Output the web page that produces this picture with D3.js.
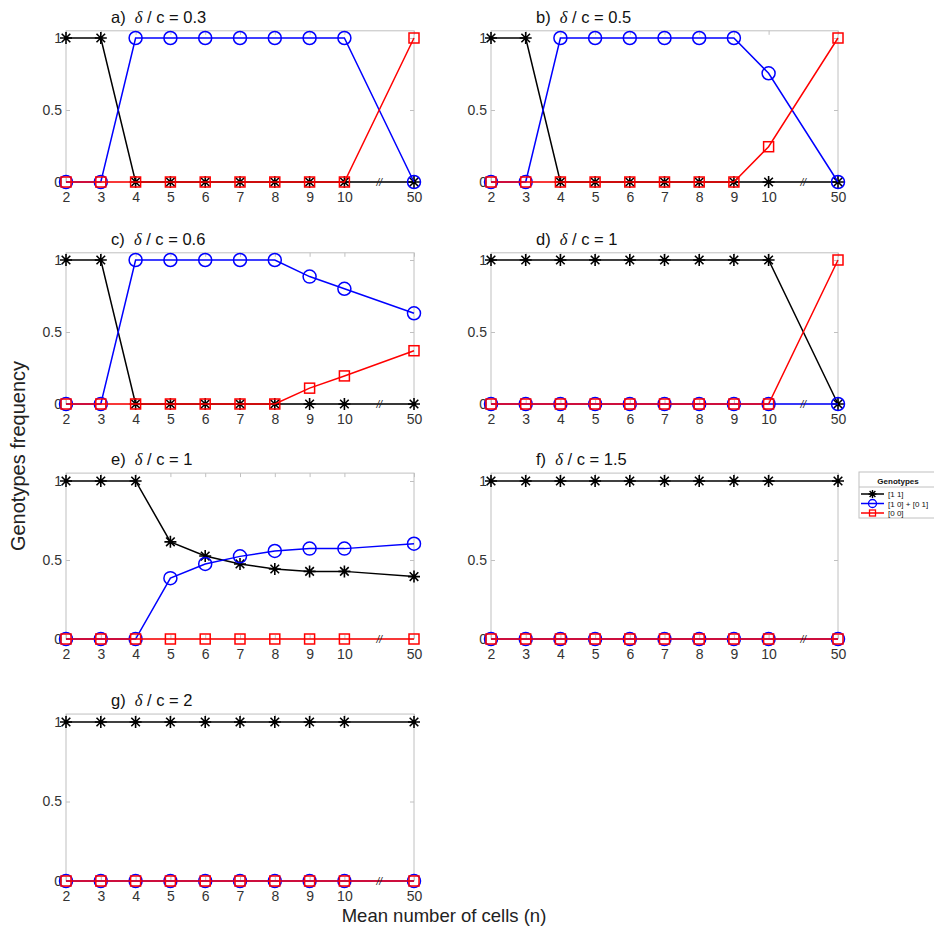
<!DOCTYPE html>
<html><head><meta charset="utf-8">
<script src="https://cdn.jsdelivr.net/npm/d3@7/dist/d3.min.js"></script>
<style>body{margin:0;background:#fff}</style>
</head><body>
<svg id="c" width="934" height="929"></svg>
<script>
const xLabels = ["2","3","4","5","6","7","8","9","10","50"];
const xPos = [0,1,2,3,4,5,6,7,8,10];
const yTicks = [0, 0.5, 1];
const titles = ["a)", "b)", "c)", "d)", "e)", "f)", "g)"];
const ratios = ["0.3", "0.5", "0.6", "1", "1", "1.5", "2"];
const seriesNames = ["[1 1]", "[1 0] + [0 1]", "[0 0]"];

const black_a = [1,1,0,0,0,0,0,0,0,0];
const blue_a  = [0,0,1,1,1,1,1,1,1,0];
const red_a   = [0,0,0,0,0,0,0,0,0,1];
const black_b = [1,1,0,0,0,0,0,0,0,0];
const blue_b  = [0,0,1,1,1,1,1,1,0.755,0];
const red_b   = [0,0,0,0,0,0,0,0,0.245,1];
const black_c = [1,1,0,0,0,0,0,0,0,0];
const blue_c  = [0,0,1,1,1,1,1,0.885,0.80,0.63];
const red_c   = [0,0,0,0,0,0,0,0.11,0.195,0.37];
const black_d = [1,1,1,1,1,1,1,1,1,0];
const blue_d  = [0,0,0,0,0,0,0,0,0,0];
const red_d   = [0,0,0,0,0,0,0,0,0,1];
const black_e = [1,1,1,0.615,0.525,0.475,0.443,0.428,0.428,0.395];
const blue_e  = [0,0,0,0.385,0.475,0.523,0.557,0.572,0.572,0.603];
const red_e   = [0,0,0,0,0,0,0,0,0,0];
const black_f = [1,1,1,1,1,1,1,1,1,1];
const blue_f  = [0,0,0,0,0,0,0,0,0,0];
const red_f   = [0,0,0,0,0,0,0,0,0,0];
const black_g = [1,1,1,1,1,1,1,1,1,1];
const blue_g  = [0,0,0,0,0,0,0,0,0,0];
const red_g   = [0,0,0,0,0,0,0,0,0,0];

const panelData = [
  [black_a, blue_a, red_a], [black_b, blue_b, red_b],
  [black_c, blue_c, red_c], [black_d, blue_d, red_d],
  [black_e, blue_e, red_e], [black_f, blue_f, red_f],
  [black_g, blue_g, red_g]
];

const colors = ["#000000", "#0000ff", "#ff0000"];
const cols = [[66, 414], [491, 838]];
const rows = [[38, 182], [260, 404], [481, 639], [722, 881]];

const svg = d3.select("#c");
const font = "'Liberation Sans', Arial, sans-serif";

function drawMarker(g, type, x, y, color) {
  if (type === 0) {
    const s = 6, d = 4.3;
    g.append("path")
      .attr("d", `M${x-s},${y}L${x+s},${y}M${x},${y-s}L${x},${y+s}M${x-d},${y-d}L${x+d},${y+d}M${x-d},${y+d}L${x+d},${y-d}`)
      .attr("stroke", color).attr("stroke-width", 1.6).attr("fill", "none");
  } else if (type === 1) {
    g.append("circle").attr("cx", x).attr("cy", y).attr("r", 6.5)
      .attr("stroke", color).attr("stroke-width", 1.5).attr("fill", "none");
  } else {
    g.append("rect").attr("x", x-5).attr("y", y-5).attr("width", 10).attr("height", 10)
      .attr("stroke", color).attr("stroke-width", 1.5).attr("fill", "none");
  }
}

panelData.forEach((series, i) => {
  const col = i % 2, row = Math.floor(i / 2);
  const x = d3.scaleLinear().domain([0, 10]).range(cols[col]);
  const y = d3.scaleLinear().domain([0, 1]).range([rows[row][1], rows[row][0]]);
  const g = svg.append("g");
  const x0 = x(0), x1 = x(10), yT = y(1.05), yB = y(0);

  // box
  g.append("rect").attr("x", x0).attr("y", yT).attr("width", x1 - x0).attr("height", yB - yT)
    .attr("fill", "none").attr("stroke", "#c0c0c0").attr("stroke-width", 1);

  // y axis ticks & labels
  const yAx = d3.axisLeft(y).tickValues(yTicks).tickSize(-4).tickPadding(4)
    .tickFormat(d => d === 0.5 ? "0.5" : String(d));
  const ya = g.append("g").attr("transform", `translate(${x0},0)`).call(yAx);
  ya.select(".domain").remove();
  ya.selectAll("line").attr("stroke", "#c0c0c0");
  ya.selectAll("text").attr("font-family", font).attr("font-size", 14).attr("fill", "#333");
  const yAxR = d3.axisRight(y).tickValues(yTicks).tickSize(-4).tickFormat("");
  const yr = g.append("g").attr("transform", `translate(${x1},0)`).call(yAxR);
  yr.select(".domain").remove();
  yr.selectAll("line").attr("stroke", "#c0c0c0");

  // x axis
  const xAx = d3.axisBottom(x).tickValues(xPos).tickSize(-4).tickPadding(10)
    .tickFormat((d, k) => xLabels[k]);
  const xa = g.append("g").attr("transform", `translate(0,${yB})`).call(xAx);
  xa.select(".domain").remove();
  xa.selectAll("line").attr("stroke", "#c0c0c0");
  xa.selectAll("text").attr("font-family", font).attr("font-size", 14).attr("fill", "#333");
  const xAxT = d3.axisTop(x).tickValues(xPos).tickSize(-4).tickFormat("");
  const xt = g.append("g").attr("transform", `translate(0,${yT})`).call(xAxT);
  xt.select(".domain").remove();
  xt.selectAll("line").attr("stroke", "#c0c0c0");

  // title
  const t = g.append("text").attr("x", x0 + 45).attr("y", yT - 8)
    .attr("font-family", font).attr("font-size", 16.5).attr("fill", "#111");
  t.append("tspan").text(titles[i] + "\u00a0\u00a0");
  t.append("tspan").attr("font-family", "'Liberation Serif', 'Times New Roman', serif")
    .attr("font-style", "italic").text("\u03b4");
  t.append("tspan").text(" / c = " + ratios[i]);

  // lines and markers
  const line = d3.line().x((d, k) => x(xPos[k])).y(d => y(d));
  series.forEach((vals, s) => {
    g.append("path").datum(vals).attr("d", line)
      .attr("fill", "none").attr("stroke", colors[s]).attr("stroke-width", 1.5);
    vals.forEach((v, k) => drawMarker(g, s, x(xPos[k]), y(v), colors[s]));
  });

  // break mark
  g.append("text").attr("x", x(9)).attr("y", yB + 4).attr("text-anchor", "middle")
    .attr("font-family", font).attr("font-size", 10).attr("font-style", "italic")
    .attr("fill", "#222").text("//");
});

// axis titles
svg.append("text").attr("transform", "translate(25,456) rotate(-90)")
  .attr("text-anchor", "middle").attr("font-family", font).attr("font-size", 20)
  .attr("fill", "#222").text("Genotypes frequency");
svg.append("text").attr("x", 444).attr("y", 922).attr("text-anchor", "middle")
  .attr("font-family", font).attr("font-size", 18.5).attr("fill", "#222")
  .text("Mean number of cells (n)");

// legend
const lg = svg.append("g");
lg.append("rect").attr("x", 859).attr("y", 472).attr("width", 80).attr("height", 46)
  .attr("fill", "#fff").attr("stroke", "#c0c0c0").attr("stroke-width", 1);
lg.append("text").attr("x", 898).attr("y", 484).attr("text-anchor", "middle")
  .attr("font-family", font).attr("font-size", 8).attr("font-weight", "bold").attr("fill", "#111")
  .text("Genotypes");
lg.append("line").attr("x1", 859).attr("x2", 939).attr("y1", 487).attr("y2", 487)
  .attr("stroke", "#c0c0c0");
seriesNames.forEach((name, s) => {
  const yy = 494 + s * 9.5;
  lg.append("line").attr("x1", 861).attr("x2", 884).attr("y1", yy).attr("y2", yy)
    .attr("stroke", colors[s]).attr("stroke-width", 1.5);
  const mg = lg.append("g");
  if (s === 0) {
    const x = 872.5, sz = 4, d = 2.9;
    mg.append("path").attr("d", `M${x-sz},${yy}L${x+sz},${yy}M${x},${yy-sz}L${x},${yy+sz}M${x-d},${yy-d}L${x+d},${yy+d}M${x-d},${yy+d}L${x+d},${yy-d}`)
      .attr("stroke", "#000").attr("stroke-width", 1.4);
  } else if (s === 1) {
    mg.append("circle").attr("cx", 872.5).attr("cy", yy).attr("r", 4).attr("fill", "none")
      .attr("stroke", colors[s]).attr("stroke-width", 1.3);
  } else {
    mg.append("rect").attr("x", 869.5).attr("y", yy - 3).attr("width", 6).attr("height", 6)
      .attr("fill", "none").attr("stroke", colors[s]).attr("stroke-width", 1.3);
  }
  lg.append("text").attr("x", 888).attr("y", yy + 3).attr("font-family", font)
    .attr("font-size", 8).attr("fill", "#111").text(name);
});
</script>
</body></html>
